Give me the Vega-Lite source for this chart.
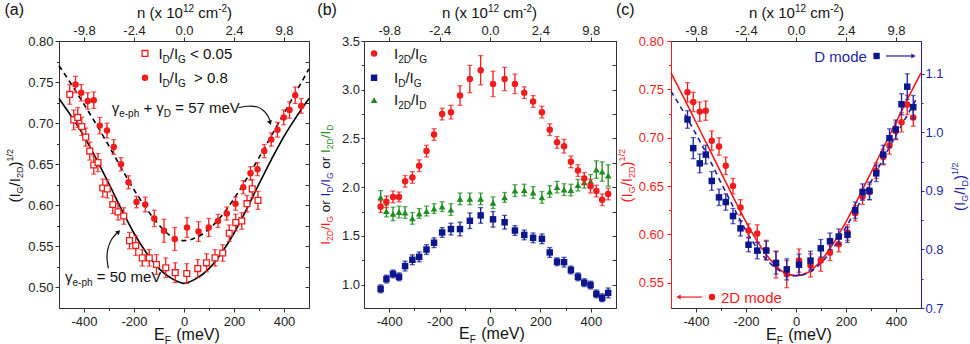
{
"$schema":"https://vega.github.io/schema/vega-lite/v6.json",
"padding":{"left":3,"top":1,"right":0,"bottom":0},
"autosize":{"type":"pad"},
"background":"white",
"config":{"font":"Liberation Sans","view":{"stroke":"#333","strokeWidth":1},"axis":{"labelFont":"Liberation Sans","labelFontSize":13,"labelColor":"#222","domainColor":"#333","tickColor":"#333","grid":false,"labelFlush":false,"labelOverlap":false},"text":{"font":"Liberation Sans"}},
"datasets":{
"circ":[{"E":-434,"v":0.747,"e":0.010},{"E":-411,"v":0.737,"e":0.010},{"E":-385,"v":0.727,"e":0.010},{"E":-361,"v":0.728,"e":0.010},{"E":-337,"v":0.697,"e":0.010},{"E":-308,"v":0.691,"e":0.009},{"E":-281,"v":0.671,"e":0.009},{"E":-252,"v":0.650,"e":0.008},{"E":-222,"v":0.628,"e":0.008},{"E":-190,"v":0.604,"e":0.007},{"E":-155,"v":0.601,"e":0.009},{"E":-119,"v":0.584,"e":0.010},{"E":-80,"v":0.569,"e":0.014},{"E":-37,"v":0.559,"e":0.014},{"E":12,"v":0.573,"e":0.012},{"E":58,"v":0.568,"e":0.012},{"E":99,"v":0.573,"e":0.011},{"E":136,"v":0.581,"e":0.008},{"E":171,"v":0.590,"e":0.008},{"E":206,"v":0.602,"e":0.008},{"E":237,"v":0.622,"e":0.008},{"E":266,"v":0.639,"e":0.008},{"E":294,"v":0.644,"e":0.008},{"E":321,"v":0.666,"e":0.008},{"E":349,"v":0.680,"e":0.008},{"E":374,"v":0.692,"e":0.009},{"E":399,"v":0.707,"e":0.009},{"E":422,"v":0.716,"e":0.010},{"E":445,"v":0.734,"e":0.010},{"E":469,"v":0.721,"e":0.009}],
"sq":[{"E":-457,"v":0.735,"e":0.012},{"E":-441,"v":0.704,"e":0.012},{"E":-425,"v":0.707,"e":0.012},{"E":-409,"v":0.696,"e":0.011},{"E":-393,"v":0.683,"e":0.011},{"E":-377,"v":0.666,"e":0.011},{"E":-361,"v":0.649,"e":0.011},{"E":-344,"v":0.652,"e":0.011},{"E":-325,"v":0.621,"e":0.011},{"E":-307,"v":0.620,"e":0.011},{"E":-285,"v":0.601,"e":0.011},{"E":-264,"v":0.592,"e":0.010},{"E":-241,"v":0.587,"e":0.010},{"E":-218,"v":0.557,"e":0.010},{"E":-193,"v":0.551,"e":0.012},{"E":-167,"v":0.536,"e":0.010},{"E":-139,"v":0.536,"e":0.010},{"E":-110,"v":0.528,"e":0.012},{"E":-73,"v":0.524,"e":0.012},{"E":-35,"v":0.518,"e":0.012},{"E":11,"v":0.517,"e":0.012},{"E":55,"v":0.523,"e":0.011},{"E":90,"v":0.530,"e":0.011},{"E":124,"v":0.536,"e":0.010},{"E":155,"v":0.542,"e":0.010},{"E":181,"v":0.566,"e":0.010},{"E":207,"v":0.579,"e":0.010},{"E":231,"v":0.581,"e":0.010},{"E":252,"v":0.602,"e":0.010},{"E":273,"v":0.620,"e":0.011},{"E":296,"v":0.606,"e":0.011}],
"b_r":[{"E":-434,"v":1.80,"e":0.06},{"E":-411,"v":1.85,"e":0.06},{"E":-385,"v":1.90,"e":0.06},{"E":-361,"v":1.90,"e":0.05},{"E":-337,"v":2.06,"e":0.06},{"E":-308,"v":2.10,"e":0.06},{"E":-281,"v":2.22,"e":0.06},{"E":-252,"v":2.37,"e":0.06},{"E":-222,"v":2.54,"e":0.06},{"E":-190,"v":2.75,"e":0.06},{"E":-155,"v":2.77,"e":0.07},{"E":-119,"v":2.94,"e":0.10},{"E":-80,"v":3.11,"e":0.14},{"E":-37,"v":3.20,"e":0.15},{"E":12,"v":3.06,"e":0.13},{"E":58,"v":3.11,"e":0.12},{"E":99,"v":3.06,"e":0.10},{"E":136,"v":2.97,"e":0.06},{"E":171,"v":2.88,"e":0.06},{"E":206,"v":2.77,"e":0.06},{"E":237,"v":2.59,"e":0.06},{"E":266,"v":2.46,"e":0.06},{"E":294,"v":2.42,"e":0.07},{"E":321,"v":2.26,"e":0.06},{"E":349,"v":2.17,"e":0.06},{"E":374,"v":2.09,"e":0.06},{"E":399,"v":2.01,"e":0.07},{"E":422,"v":1.96,"e":0.06},{"E":445,"v":1.87,"e":0.06},{"E":469,"v":1.93,"e":0.06}],
"b_b":[{"E":-434,"v":0.957,"e":0.04},{"E":-411,"v":1.057,"e":0.04},{"E":-385,"v":1.11,"e":0.04},{"E":-361,"v":1.08,"e":0.04},{"E":-337,"v":1.19,"e":0.05},{"E":-308,"v":1.255,"e":0.05},{"E":-281,"v":1.285,"e":0.05},{"E":-252,"v":1.36,"e":0.05},{"E":-222,"v":1.43,"e":0.05},{"E":-190,"v":1.535,"e":0.05},{"E":-155,"v":1.57,"e":0.06},{"E":-119,"v":1.57,"e":0.07},{"E":-80,"v":1.655,"e":0.08},{"E":-37,"v":1.71,"e":0.08},{"E":12,"v":1.67,"e":0.08},{"E":58,"v":1.64,"e":0.07},{"E":99,"v":1.555,"e":0.05},{"E":136,"v":1.51,"e":0.05},{"E":171,"v":1.48,"e":0.05},{"E":206,"v":1.47,"e":0.05},{"E":237,"v":1.33,"e":0.05},{"E":266,"v":1.235,"e":0.04},{"E":294,"v":1.23,"e":0.05},{"E":321,"v":1.15,"e":0.04},{"E":349,"v":1.08,"e":0.04},{"E":374,"v":1.02,"e":0.04},{"E":399,"v":0.995,"e":0.04},{"E":422,"v":0.905,"e":0.04},{"E":445,"v":0.865,"e":0.04},{"E":469,"v":0.915,"e":0.05}],
"b_g":[{"E":-434,"v":1.895,"e":0.07},{"E":-411,"v":1.755,"e":0.06},{"E":-385,"v":1.725,"e":0.07},{"E":-361,"v":1.745,"e":0.06},{"E":-337,"v":1.74,"e":0.06},{"E":-308,"v":1.68,"e":0.06},{"E":-281,"v":1.73,"e":0.05},{"E":-252,"v":1.755,"e":0.05},{"E":-222,"v":1.78,"e":0.05},{"E":-190,"v":1.80,"e":0.05},{"E":-155,"v":1.77,"e":0.06},{"E":-119,"v":1.88,"e":0.06},{"E":-80,"v":1.88,"e":0.06},{"E":-37,"v":1.88,"e":0.06},{"E":12,"v":1.84,"e":0.06},{"E":58,"v":1.895,"e":0.05},{"E":99,"v":1.965,"e":0.06},{"E":136,"v":1.97,"e":0.06},{"E":171,"v":1.945,"e":0.06},{"E":206,"v":1.895,"e":0.06},{"E":237,"v":1.955,"e":0.06},{"E":266,"v":2.00,"e":0.06},{"E":294,"v":1.975,"e":0.06},{"E":321,"v":1.97,"e":0.06},{"E":349,"v":2.02,"e":0.06},{"E":374,"v":2.05,"e":0.06},{"E":399,"v":2.06,"e":0.07},{"E":422,"v":2.18,"e":0.09},{"E":445,"v":2.16,"e":0.10},{"E":469,"v":2.12,"e":0.11}],
"c_b":[{"E":-434,"v":1.022,"e":0.015},{"E":-411,"v":0.973,"e":0.018},{"E":-385,"v":0.947,"e":0.016},{"E":-361,"v":0.962,"e":0.016},{"E":-337,"v":0.917,"e":0.016},{"E":-308,"v":0.889,"e":0.014},{"E":-281,"v":0.881,"e":0.014},{"E":-252,"v":0.857,"e":0.013},{"E":-222,"v":0.836,"e":0.013},{"E":-190,"v":0.808,"e":0.012},{"E":-155,"v":0.798,"e":0.014},{"E":-119,"v":0.798,"e":0.016},{"E":-80,"v":0.777,"e":0.019},{"E":-37,"v":0.766,"e":0.018},{"E":12,"v":0.774,"e":0.018},{"E":58,"v":0.781,"e":0.016},{"E":99,"v":0.802,"e":0.015},{"E":136,"v":0.814,"e":0.014},{"E":171,"v":0.822,"e":0.013},{"E":206,"v":0.825,"e":0.013},{"E":237,"v":0.867,"e":0.014},{"E":266,"v":0.898,"e":0.014},{"E":294,"v":0.900,"e":0.015},{"E":321,"v":0.930,"e":0.014},{"E":349,"v":0.962,"e":0.016},{"E":374,"v":0.990,"e":0.016},{"E":399,"v":1.005,"e":0.016},{"E":422,"v":1.048,"e":0.018},{"E":445,"v":1.078,"e":0.022},{"E":469,"v":1.043,"e":0.020}],
"a_solid":[{"E":-500,"v":0.730},{"E":-450,"v":0.708},{"E":-400,"v":0.684},{"E":-350,"v":0.656},{"E":-300,"v":0.626},{"E":-250,"v":0.595},{"E":-200,"v":0.566},{"E":-150,"v":0.542},{"E":-100,"v":0.523},{"E":-50,"v":0.511},{"E":0,"v":0.505},{"E":50,"v":0.511},{"E":100,"v":0.523},{"E":150,"v":0.542},{"E":200,"v":0.566},{"E":250,"v":0.595},{"E":300,"v":0.626},{"E":350,"v":0.656},{"E":400,"v":0.684},{"E":450,"v":0.708},{"E":500,"v":0.730}],
"a_dash":[{"E":-500,"v":0.770},{"E":-450,"v":0.747},{"E":-400,"v":0.723},{"E":-350,"v":0.698},{"E":-300,"v":0.672},{"E":-250,"v":0.645},{"E":-200,"v":0.619},{"E":-150,"v":0.596},{"E":-100,"v":0.576},{"E":-50,"v":0.562},{"E":0,"v":0.557},{"E":50,"v":0.561},{"E":100,"v":0.571},{"E":150,"v":0.587},{"E":200,"v":0.608},{"E":250,"v":0.632},{"E":300,"v":0.658},{"E":350,"v":0.685},{"E":400,"v":0.712},{"E":450,"v":0.739},{"E":500,"v":0.766}],
"c_red":[{"E":-500,"v":0.767},{"E":-450,"v":0.742},{"E":-400,"v":0.716},{"E":-350,"v":0.690},{"E":-300,"v":0.664},{"E":-250,"v":0.638},{"E":-200,"v":0.613},{"E":-150,"v":0.591},{"E":-100,"v":0.573},{"E":-50,"v":0.561},{"E":0,"v":0.5575},{"E":50,"v":0.561},{"E":100,"v":0.573},{"E":150,"v":0.591},{"E":200,"v":0.613},{"E":250,"v":0.638},{"E":300,"v":0.664},{"E":350,"v":0.690},{"E":400,"v":0.716},{"E":450,"v":0.742},{"E":500,"v":0.767}],
"c_blue":[{"E":-500,"v":1.070},{"E":-450,"v":1.035},{"E":-400,"v":0.997},{"E":-350,"v":0.957},{"E":-300,"v":0.914},{"E":-250,"v":0.872},{"E":-200,"v":0.832},{"E":-150,"v":0.799},{"E":-100,"v":0.775},{"E":-50,"v":0.760},{"E":0,"v":0.755},{"E":50,"v":0.760},{"E":100,"v":0.777},{"E":150,"v":0.803},{"E":200,"v":0.838},{"E":250,"v":0.876},{"E":300,"v":0.916},{"E":350,"v":0.956},{"E":400,"v":0.995},{"E":450,"v":1.033},{"E":480,"v":1.056}],
"a_arr1":[{"i":0,"E":217.6,"v":0.7188},{"i":1,"E":250.8,"v":0.7206},{"i":2,"E":290.8,"v":0.7200},{"i":3,"E":318.8,"v":0.7152},{"i":4,"E":334.8,"v":0.7090},{"i":5,"E":344,"v":0.7030}],
"a_arr2":[{"i":0,"E":-302.4,"v":0.5232},{"i":1,"E":-308,"v":0.5362},{"i":2,"E":-303.2,"v":0.5484},{"i":3,"E":-289.2,"v":0.5587},{"i":4,"E":-269.2,"v":0.5660}]
},
"bounds":"flush",
"spacing":55,
"resolve":{"scale":{"color":"independent"}},
"hconcat":[
{"width":250,"height":267,
"resolve":{"axis":{"x":"independent","y":"independent"}},
"layer":[
{"data":{"name":"circ"},"mark":{"type":"point","opacity":0},"encoding":{
"x":{"field":"E","type":"quantitative","scale":{"domain":[-500,500],"nice":false,"zero":false},"axis":{"orient":"bottom","values":[-400,-200,0,200,400],"labelExpr":"toString(datum.value)","title":null,"tickSize":4,"labelPadding":3.5}},
"y":{"field":"v","type":"quantitative","scale":{"domain":[0.475,0.8],"nice":false,"zero":false},"axis":{"orient":"left","values":[0.5,0.55,0.6,0.65,0.7,0.75,0.8],"format":".2f","title":null,"tickSize":4,"labelPadding":2}}}},
{"data":{"name":"circ"},"mark":{"type":"point","opacity":0},"encoding":{
"x":{"field":"E","type":"quantitative","scale":{"domain":[-500,500],"nice":false,"zero":false},"axis":{"orient":"top","values":[-400,-200,0,200,400],"labelExpr":"datum.value == -400 ? '-9.8' : datum.value == -200 ? '-2.4' : datum.value == 0 ? '0.0' : datum.value == 200 ? '2.4' : '9.8'","title":null,"tickSize":4,"labelPadding":0}},
"y":{"field":"v","type":"quantitative","scale":{"domain":[0.475,0.8],"nice":false,"zero":false},"axis":{"orient":"right","values":[0.5,0.525,0.55,0.575,0.6,0.625,0.65,0.675,0.7,0.725,0.75,0.775],"labels":false,"title":null,"tickSize":-4}}}},
{"data":{"name":"circ"},"mark":{"type":"point","opacity":0},"encoding":{
"x":{"field":"E","type":"quantitative","scale":{"domain":[-500,500],"nice":false,"zero":false},"axis":{"orient":"bottom","values":[-300,-100,100,300],"labels":false,"domain":false,"title":null,"tickSize":2.5}},
"y":{"field":"v","type":"quantitative","scale":{"domain":[0.475,0.8],"nice":false,"zero":false},"axis":{"orient":"left","values":[0.525,0.575,0.625,0.675,0.725,0.775],"labels":false,"domain":false,"title":null,"tickSize":2.5}}}},
{"data":{"name":"a_solid"},"mark":{"type":"line","color":"#000","strokeWidth":1.6,"interpolate":"monotone"},"encoding":{
"x":{"field":"E","type":"quantitative","scale":{"domain":[-500,500],"nice":false,"zero":false},"axis":null},
"y":{"field":"v","type":"quantitative","scale":{"domain":[0.475,0.8],"nice":false,"zero":false},"axis":null}}},
{"data":{"name":"a_dash"},"mark":{"type":"line","color":"#000","strokeWidth":1.6,"strokeDash":[5,4],"interpolate":"monotone"},"encoding":{
"x":{"field":"E","type":"quantitative","scale":{"domain":[-500,500],"nice":false,"zero":false},"axis":null},
"y":{"field":"v","type":"quantitative","scale":{"domain":[0.475,0.8],"nice":false,"zero":false},"axis":null}}},
{"data":{"name":"sq"},"mark":{"type":"errorbar","ticks":true,"size":5,"thickness":1.3,"color":"#f21c1c"},"encoding":{
"x":{"field":"E","type":"quantitative","scale":{"domain":[-500,500],"nice":false,"zero":false},"axis":null},
"y":{"field":"v","type":"quantitative","scale":{"domain":[0.475,0.8],"nice":false,"zero":false},"axis":null},
"yError":{"field":"e"}}},
{"data":{"name":"sq"},"mark":{"type":"point","shape":"square","filled":true,"fill":"#fff","stroke":"#f21c1c","strokeWidth":1.3,"size":34,"opacity":1},"encoding":{
"x":{"field":"E","type":"quantitative","scale":{"domain":[-500,500],"nice":false,"zero":false},"axis":null},
"y":{"field":"v","type":"quantitative","scale":{"domain":[0.475,0.8],"nice":false,"zero":false},"axis":null}}},
{"data":{"name":"circ"},"mark":{"type":"errorbar","ticks":true,"size":5,"thickness":1.3,"color":"#f21c1c"},"encoding":{
"x":{"field":"E","type":"quantitative","scale":{"domain":[-500,500],"nice":false,"zero":false},"axis":null},
"y":{"field":"v","type":"quantitative","scale":{"domain":[0.475,0.8],"nice":false,"zero":false},"axis":null},
"yError":{"field":"e"}}},
{"data":{"name":"circ"},"mark":{"type":"circle","color":"#f21c1c","size":42,"opacity":1},"encoding":{
"x":{"field":"E","type":"quantitative","scale":{"domain":[-500,500],"nice":false,"zero":false},"axis":null},
"y":{"field":"v","type":"quantitative","scale":{"domain":[0.475,0.8],"nice":false,"zero":false},"axis":null}}},
{"data":{"values":[{"E":-156,"v":0.7849}]},"mark":{"type":"point","shape":"square","filled":true,"fill":"#fff","stroke":"#f21c1c","strokeWidth":1.3,"size":34,"opacity":1},"encoding":{
"x":{"field":"E","type":"quantitative","scale":{"domain":[-500,500],"nice":false,"zero":false},"axis":null},
"y":{"field":"v","type":"quantitative","scale":{"domain":[0.475,0.8],"nice":false,"zero":false},"axis":null}}},
{"data":{"values":[{"E":-156,"v":0.7553}]},"mark":{"type":"circle","color":"#f21c1c","size":42,"opacity":1},"encoding":{
"x":{"field":"E","type":"quantitative","scale":{"domain":[-500,500],"nice":false,"zero":false},"axis":null},
"y":{"field":"v","type":"quantitative","scale":{"domain":[0.475,0.8],"nice":false,"zero":false},"axis":null}}},
{"data":{"name":"a_arr1"},"mark":{"type":"line","color":"#111","strokeWidth":1.2,"interpolate":"cardinal"},"encoding":{
"x":{"field":"E","type":"quantitative","scale":{"domain":[-500,500],"nice":false,"zero":false},"axis":null},
"y":{"field":"v","type":"quantitative","scale":{"domain":[0.475,0.8],"nice":false,"zero":false},"axis":null},
"order":{"field":"i","type":"quantitative"}}},
{"data":{"name":"a_arr2"},"mark":{"type":"line","color":"#111","strokeWidth":1.2,"interpolate":"cardinal"},"encoding":{
"x":{"field":"E","type":"quantitative","scale":{"domain":[-500,500],"nice":false,"zero":false},"axis":null},
"y":{"field":"v","type":"quantitative","scale":{"domain":[0.475,0.8],"nice":false,"zero":false},"axis":null},
"order":{"field":"i","type":"quantitative"}}},
{"data":{"values":[{"E":344.5,"v":0.7005}]},"mark":{"type":"point","shape":"triangle-down","filled":true,"color":"#111","size":28,"angle":340,"opacity":1},"encoding":{
"x":{"field":"E","type":"quantitative","scale":{"domain":[-500,500],"nice":false,"zero":false},"axis":null},
"y":{"field":"v","type":"quantitative","scale":{"domain":[0.475,0.8],"nice":false,"zero":false},"axis":null}}},
{"data":{"values":[{"E":-262,"v":0.5677}]},"mark":{"type":"point","shape":"triangle-up","filled":true,"color":"#111","size":28,"angle":45,"opacity":1},"encoding":{
"x":{"field":"E","type":"quantitative","scale":{"domain":[-500,500],"nice":false,"zero":false},"axis":null},
"y":{"field":"v","type":"quantitative","scale":{"domain":[0.475,0.8],"nice":false,"zero":false},"axis":null}}},
{"data":{"values":[{"t":"(a)","E":-718.4,"v":0.8314},{"t":"E","E":-120,"v":0.4366},{"t":"(meV)","E":-31,"v":0.4366}]},"mark":{"type":"text","align":"left","baseline":"alphabetic","fontSize":16,"color":"#111"},"encoding":{
"x":{"field":"E","type":"quantitative","scale":{"domain":[-500,500],"nice":false,"zero":false},"axis":null},
"y":{"field":"v","type":"quantitative","scale":{"domain":[0.475,0.8],"nice":false,"zero":false},"axis":null},
"text":{"field":"t"}}},
{"data":{"values":[{"t":"n (x 10","E":-188,"v":0.8275},{"t":"cm","E":56.8,"v":0.8275},{"t":")","E":172.4,"v":0.8275},{"t":"I","E":-102.4,"v":0.7783},{"t":"/I","E":-56.8,"v":0.7783},{"t":"< 0.05","E":24.4,"v":0.7783},{"t":"I","E":-102.4,"v":0.7487},{"t":"/I","E":-56.8,"v":0.7487},{"t":"> 0.8","E":40,"v":0.7487},{"t":"γ","E":-289.2,"v":0.712},{"t":"+ γ","E":-162.4,"v":0.712},{"t":"= 57 meV","E":-35.2,"v":0.712},{"t":"γ","E":-476,"v":0.5067},{"t":"= 50 meV","E":-349.2,"v":0.5067}]},"mark":{"type":"text","align":"left","baseline":"alphabetic","fontSize":15,"color":"#111"},"encoding":{
"x":{"field":"E","type":"quantitative","scale":{"domain":[-500,500],"nice":false,"zero":false},"axis":null},
"y":{"field":"v","type":"quantitative","scale":{"domain":[0.475,0.8],"nice":false,"zero":false},"axis":null},
"text":{"field":"t"}}},
{"data":{"values":[{"t":"F","E":-77.3,"v":0.4366},{"t":"D","E":-85.6,"v":0.7783},{"t":"G","E":-23.6,"v":0.7783},{"t":"D","E":-85.6,"v":0.7487},{"t":"G","E":-23.6,"v":0.7487},{"t":"e-ph","E":-259.2,"v":0.712},{"t":"D","E":-80.8,"v":0.712},{"t":"e-ph","E":-446,"v":0.5067}]},"mark":{"type":"text","align":"left","baseline":"alphabetic","fontSize":10,"dy":4,"color":"#111"},"encoding":{
"x":{"field":"E","type":"quantitative","scale":{"domain":[-500,500],"nice":false,"zero":false},"axis":null},
"y":{"field":"v","type":"quantitative","scale":{"domain":[0.475,0.8],"nice":false,"zero":false},"axis":null},
"text":{"field":"t"}}},
{"data":{"values":[{"t":"12","E":-4.4,"v":0.8275},{"t":"-2","E":136.8,"v":0.8275}]},"mark":{"type":"text","align":"left","baseline":"alphabetic","fontSize":10,"dy":-6,"color":"#111"},"encoding":{
"x":{"field":"E","type":"quantitative","scale":{"domain":[-500,500],"nice":false,"zero":false},"axis":null},
"y":{"field":"v","type":"quantitative","scale":{"domain":[0.475,0.8],"nice":false,"zero":false},"axis":null},
"text":{"field":"t"}}},
{"data":{"values":[{"t":"(I","E":-655,"v":0.6033},{"t":"/I","E":-655,"v":0.6230},{"t":")","E":-655,"v":0.6471}]},"mark":{"type":"text","align":"left","baseline":"alphabetic","fontSize":15,"angle":270,"color":"#111"},"encoding":{
"x":{"field":"E","type":"quantitative","scale":{"domain":[-500,500],"nice":false,"zero":false},"axis":null},
"y":{"field":"v","type":"quantitative","scale":{"domain":[0.475,0.8],"nice":false,"zero":false},"axis":null},
"text":{"field":"t"}}},
{"data":{"values":[{"t":"G","E":-655,"v":0.6144},{"t":"2D","E":-655,"v":0.6331}]},"mark":{"type":"text","align":"left","baseline":"alphabetic","fontSize":9,"angle":270,"dy":3,"color":"#111"},"encoding":{
"x":{"field":"E","type":"quantitative","scale":{"domain":[-500,500],"nice":false,"zero":false},"axis":null},
"y":{"field":"v","type":"quantitative","scale":{"domain":[0.475,0.8],"nice":false,"zero":false},"axis":null},
"text":{"field":"t"}}},
{"data":{"values":[{"t":"1/2","E":-655,"v":0.6532}]},"mark":{"type":"text","align":"left","baseline":"alphabetic","fontSize":9,"angle":270,"dy":-7,"color":"#111"},"encoding":{
"x":{"field":"E","type":"quantitative","scale":{"domain":[-500,500],"nice":false,"zero":false},"axis":null},
"y":{"field":"v","type":"quantitative","scale":{"domain":[0.475,0.8],"nice":false,"zero":false},"axis":null},
"text":{"field":"t"}}}
]},
{"width":252,"height":267,
"resolve":{"axis":{"x":"independent","y":"independent"}},
"layer":[
{"data":{"name":"b_r"},"mark":{"type":"point","opacity":0},"encoding":{
"x":{"field":"E","type":"quantitative","scale":{"domain":[-500,500],"nice":false,"zero":false},"axis":{"orient":"bottom","values":[-400,-200,0,200,400],"labelExpr":"toString(datum.value)","title":null,"tickSize":4,"labelPadding":3.5}},
"y":{"field":"v","type":"quantitative","scale":{"domain":[0.76,3.5],"nice":false,"zero":false},"axis":{"orient":"left","values":[1,1.5,2,2.5,3,3.5],"format":".1f","title":null,"tickSize":3,"labelPadding":1.5}}}},
{"data":{"name":"b_r"},"mark":{"type":"point","opacity":0},"encoding":{
"x":{"field":"E","type":"quantitative","scale":{"domain":[-500,500],"nice":false,"zero":false},"axis":{"orient":"top","values":[-400,-200,0,200,400],"labelExpr":"datum.value == -400 ? '-9.8' : datum.value == -200 ? '-2.4' : datum.value == 0 ? '0.0' : datum.value == 200 ? '2.4' : '9.8'","title":null,"tickSize":4,"labelPadding":0}},
"y":{"field":"v","type":"quantitative","scale":{"domain":[0.76,3.5],"nice":false,"zero":false},"axis":{"orient":"right","values":[1,1.25,1.5,1.75,2,2.25,2.5,2.75,3,3.25],"labels":false,"title":null,"tickSize":-4}}}},
{"data":{"name":"b_r"},"mark":{"type":"point","opacity":0},"encoding":{
"x":{"field":"E","type":"quantitative","scale":{"domain":[-500,500],"nice":false,"zero":false},"axis":{"orient":"bottom","values":[-300,-100,100,300],"labels":false,"domain":false,"title":null,"tickSize":2.5}},
"y":{"field":"v","type":"quantitative","scale":{"domain":[0.76,3.5],"nice":false,"zero":false},"axis":{"orient":"left","values":[1.25,1.75,2.25,2.75,3.25],"labels":false,"domain":false,"title":null,"tickSize":2.5}}}},
{"data":{"name":"b_b"},"mark":{"type":"errorbar","ticks":true,"size":5,"thickness":1.3,"color":"#0c168c"},"encoding":{
"x":{"field":"E","type":"quantitative","scale":{"domain":[-500,500],"nice":false,"zero":false},"axis":null},
"y":{"field":"v","type":"quantitative","scale":{"domain":[0.76,3.5],"nice":false,"zero":false},"axis":null},
"yError":{"field":"e"}}},
{"data":{"name":"b_b"},"mark":{"type":"point","shape":"square","filled":true,"color":"#0c168c","size":42,"opacity":1},"encoding":{
"x":{"field":"E","type":"quantitative","scale":{"domain":[-500,500],"nice":false,"zero":false},"axis":null},
"y":{"field":"v","type":"quantitative","scale":{"domain":[0.76,3.5],"nice":false,"zero":false},"axis":null}}},
{"data":{"name":"b_g"},"mark":{"type":"errorbar","ticks":true,"size":5,"thickness":1.3,"color":"#1e8c1e"},"encoding":{
"x":{"field":"E","type":"quantitative","scale":{"domain":[-500,500],"nice":false,"zero":false},"axis":null},
"y":{"field":"v","type":"quantitative","scale":{"domain":[0.76,3.5],"nice":false,"zero":false},"axis":null},
"yError":{"field":"e"}}},
{"data":{"name":"b_g"},"mark":{"type":"point","shape":"triangle-up","filled":true,"color":"#1e8c1e","size":45,"opacity":1},"encoding":{
"x":{"field":"E","type":"quantitative","scale":{"domain":[-500,500],"nice":false,"zero":false},"axis":null},
"y":{"field":"v","type":"quantitative","scale":{"domain":[0.76,3.5],"nice":false,"zero":false},"axis":null}}},
{"data":{"name":"b_r"},"mark":{"type":"errorbar","ticks":true,"size":5,"thickness":1.3,"color":"#f21c1c"},"encoding":{
"x":{"field":"E","type":"quantitative","scale":{"domain":[-500,500],"nice":false,"zero":false},"axis":null},
"y":{"field":"v","type":"quantitative","scale":{"domain":[0.76,3.5],"nice":false,"zero":false},"axis":null},
"yError":{"field":"e"}}},
{"data":{"name":"b_r"},"mark":{"type":"circle","color":"#f21c1c","size":42,"opacity":1},"encoding":{
"x":{"field":"E","type":"quantitative","scale":{"domain":[-500,500],"nice":false,"zero":false},"axis":null},
"y":{"field":"v","type":"quantitative","scale":{"domain":[0.76,3.5],"nice":false,"zero":false},"axis":null}}},
{"data":{"values":[{"E":-460,"v":3.3726}]},"mark":{"type":"circle","color":"#f21c1c","size":42,"opacity":1},"encoding":{
"x":{"field":"E","type":"quantitative","scale":{"domain":[-500,500],"nice":false,"zero":false},"axis":null},
"y":{"field":"v","type":"quantitative","scale":{"domain":[0.76,3.5],"nice":false,"zero":false},"axis":null}}},
{"data":{"values":[{"E":-460,"v":3.1228}]},"mark":{"type":"point","shape":"square","filled":true,"color":"#0c168c","size":42,"opacity":1},"encoding":{
"x":{"field":"E","type":"quantitative","scale":{"domain":[-500,500],"nice":false,"zero":false},"axis":null},
"y":{"field":"v","type":"quantitative","scale":{"domain":[0.76,3.5],"nice":false,"zero":false},"axis":null}}},
{"data":{"values":[{"E":-460,"v":2.8936}]},"mark":{"type":"point","shape":"triangle-up","filled":true,"color":"#1e8c1e","size":45,"opacity":1},"encoding":{
"x":{"field":"E","type":"quantitative","scale":{"domain":[-500,500],"nice":false,"zero":false},"axis":null},
"y":{"field":"v","type":"quantitative","scale":{"domain":[0.76,3.5],"nice":false,"zero":false},"axis":null}}},
{"data":{"values":[{"t":"(b)","E":-685.3,"v":3.7648},{"t":"E","E":-123,"v":0.44},{"t":"(meV)","E":-34.8,"v":0.44}]},"mark":{"type":"text","align":"left","baseline":"alphabetic","fontSize":16,"color":"#111"},"encoding":{
"x":{"field":"E","type":"quantitative","scale":{"domain":[-500,500],"nice":false,"zero":false},"axis":null},
"y":{"field":"v","type":"quantitative","scale":{"domain":[0.76,3.5],"nice":false,"zero":false},"axis":null},
"text":{"field":"t"}}},
{"data":{"values":[{"t":"n (x 10","E":-190.5,"v":3.7319},{"t":"cm","E":52.4,"v":3.7319},{"t":")","E":167,"v":3.7319},{"t":"I","E":-381,"v":3.3171},{"t":"/I","E":-313.7,"v":3.3171},{"t":"I","E":-381,"v":3.0673},{"t":"/I","E":-335.8,"v":3.0673},{"t":"I","E":-381,"v":2.8381},{"t":"/I","E":-313.7,"v":2.8381}]},"mark":{"type":"text","align":"left","baseline":"alphabetic","fontSize":15,"color":"#111"},"encoding":{
"x":{"field":"E","type":"quantitative","scale":{"domain":[-500,500],"nice":false,"zero":false},"axis":null},
"y":{"field":"v","type":"quantitative","scale":{"domain":[0.76,3.5],"nice":false,"zero":false},"axis":null},
"text":{"field":"t"}}},
{"data":{"values":[{"t":"F","E":-80.7,"v":0.44},{"t":"2D","E":-364.4,"v":3.3171},{"t":"G","E":-280.6,"v":3.3171},{"t":"D","E":-364.4,"v":3.0673},{"t":"G","E":-302.7,"v":3.0673},{"t":"2D","E":-364.4,"v":2.8381},{"t":"D","E":-280.6,"v":2.8381}]},"mark":{"type":"text","align":"left","baseline":"alphabetic","fontSize":10,"dy":4,"color":"#111"},"encoding":{
"x":{"field":"E","type":"quantitative","scale":{"domain":[-500,500],"nice":false,"zero":false},"axis":null},
"y":{"field":"v","type":"quantitative","scale":{"domain":[0.76,3.5],"nice":false,"zero":false},"axis":null},
"text":{"field":"t"}}},
{"data":{"values":[{"t":"12","E":-8.3,"v":3.7319},{"t":"-2","E":131.7,"v":3.7319}]},"mark":{"type":"text","align":"left","baseline":"alphabetic","fontSize":10,"dy":-6,"color":"#111"},"encoding":{
"x":{"field":"E","type":"quantitative","scale":{"domain":[-500,500],"nice":false,"zero":false},"axis":null},
"y":{"field":"v","type":"quantitative","scale":{"domain":[0.76,3.5],"nice":false,"zero":false},"axis":null},
"text":{"field":"t"}}},
{"data":{"values":[{"t":"I","c":"I2D/IG","E":-633,"v":1.4097},{"t":"/I","c":"I2D/IG","E":-633,"v":1.5596},{"t":"or","c":"or","E":-633,"v":1.7430},{"t":"I","c":"ID/IG","E":-633,"v":1.9046},{"t":"/I","c":"ID/IG","E":-633,"v":2.0061},{"t":"or","c":"or","E":-633,"v":2.1895},{"t":"I","c":"I2D/ID","E":-633,"v":2.3511},{"t":"/I","c":"I2D/ID","E":-633,"v":2.5010}]},"mark":{"type":"text","align":"left","baseline":"alphabetic","fontSize":13.5,"angle":270},"encoding":{
"x":{"field":"E","type":"quantitative","scale":{"domain":[-500,500],"nice":false,"zero":false},"axis":null},
"y":{"field":"v","type":"quantitative","scale":{"domain":[0.76,3.5],"nice":false,"zero":false},"axis":null},
"color":{"field":"c","type":"nominal","scale":{"domain":["I2D/IG","ID/IG","I2D/ID","or"],"range":["#f21c1c","#1f1fa6","#1e8c1e","#111111"]},"legend":null},
"text":{"field":"t"}}},
{"data":{"values":[{"t":"2D","c":"I2D/IG","E":-633,"v":1.4482},{"t":"G","c":"I2D/IG","E":-633,"v":1.6367},{"t":"D","c":"ID/IG","E":-633,"v":1.9431},{"t":"G","c":"ID/IG","E":-633,"v":2.0832},{"t":"2D","c":"I2D/ID","E":-633,"v":2.3896},{"t":"D","c":"I2D/ID","E":-633,"v":2.5781}]},"mark":{"type":"text","align":"left","baseline":"alphabetic","fontSize":8.5,"angle":270,"dy":3},"encoding":{
"x":{"field":"E","type":"quantitative","scale":{"domain":[-500,500],"nice":false,"zero":false},"axis":null},
"y":{"field":"v","type":"quantitative","scale":{"domain":[0.76,3.5],"nice":false,"zero":false},"axis":null},
"color":{"field":"c","type":"nominal","scale":{"domain":["I2D/IG","ID/IG","I2D/ID","or"],"range":["#f21c1c","#1f1fa6","#1e8c1e","#111111"]},"legend":null},
"text":{"field":"t"}}}
]},
{"width":250,"height":267,
"resolve":{"scale":{"y":"independent"},"axis":{"x":"independent","y":"independent"}},
"layer":[
{"data":{"name":"circ"},"mark":{"type":"point","opacity":0},"encoding":{
"x":{"field":"E","type":"quantitative","scale":{"domain":[-500,500],"nice":false,"zero":false},"axis":{"orient":"bottom","values":[-400,-200,0,200,400],"labelExpr":"toString(datum.value)","title":null,"tickSize":4,"labelPadding":3.5}},
"y":{"field":"v","type":"quantitative","scale":{"domain":[0.524,0.8],"nice":false,"zero":false},"axis":{"orient":"left","values":[0.55,0.6,0.65,0.7,0.75,0.8],"format":".2f","title":null,"tickSize":4,"labelPadding":3.5,"labelColor":"#f21c1c","tickColor":"#f21c1c","domainColor":"#f21c1c"}}}},
{"data":{"name":"c_b"},"mark":{"type":"point","opacity":0},"encoding":{
"x":{"field":"E","type":"quantitative","scale":{"domain":[-500,500],"nice":false,"zero":false},"axis":{"orient":"top","values":[-400,-200,0,200,400],"labelExpr":"datum.value == -400 ? '-9.8' : datum.value == -200 ? '-2.4' : datum.value == 0 ? '0.0' : datum.value == 200 ? '2.4' : '9.8'","title":null,"tickSize":4,"labelPadding":0}},
"y":{"field":"v","type":"quantitative","scale":{"domain":[0.7,1.156],"nice":false,"zero":false},"axis":{"orient":"right","values":[0.7,0.8,0.9,1.0,1.1],"format":".1f","title":null,"tickSize":3,"labelPadding":1,"labelColor":"#1f1fa6","tickColor":"#1f1fa6","domainColor":"#1f1fa6"}}}},
{"data":{"name":"circ"},"mark":{"type":"point","opacity":0},"encoding":{
"x":{"field":"E","type":"quantitative","scale":{"domain":[-500,500],"nice":false,"zero":false},"axis":{"orient":"bottom","values":[-300,-100,100,300],"labels":false,"domain":false,"title":null,"tickSize":2.5}},
"y":{"field":"v","type":"quantitative","scale":{"domain":[0.524,0.8],"nice":false,"zero":false},"axis":{"orient":"left","values":[0.575,0.625,0.675,0.725,0.775],"labels":false,"domain":false,"title":null,"tickSize":2.5,"tickColor":"#f21c1c"}}}},
{"data":{"name":"c_b"},"mark":{"type":"point","opacity":0},"encoding":{
"x":{"field":"E","type":"quantitative","scale":{"domain":[-500,500],"nice":false,"zero":false},"axis":null},
"y":{"field":"v","type":"quantitative","scale":{"domain":[0.7,1.156],"nice":false,"zero":false},"axis":{"orient":"right","values":[0.75,0.85,0.95,1.05],"labels":false,"domain":false,"title":null,"tickSize":2,"tickColor":"#1f1fa6"}}}},
{"data":{"name":"c_red"},"mark":{"type":"line","color":"#f21c1c","strokeWidth":1.6,"interpolate":"monotone"},"encoding":{
"x":{"field":"E","type":"quantitative","scale":{"domain":[-500,500],"nice":false,"zero":false},"axis":null},
"y":{"field":"v","type":"quantitative","scale":{"domain":[0.524,0.8],"nice":false,"zero":false},"axis":null}}},
{"data":{"name":"c_blue"},"mark":{"type":"line","color":"#1f1fa6","strokeWidth":1.6,"strokeDash":[5,4],"interpolate":"monotone"},"encoding":{
"x":{"field":"E","type":"quantitative","scale":{"domain":[-500,500],"nice":false,"zero":false},"axis":null},
"y":{"field":"v","type":"quantitative","scale":{"domain":[0.7,1.156],"nice":false,"zero":false},"axis":null}}},
{"data":{"name":"circ"},"mark":{"type":"errorbar","ticks":true,"size":5,"thickness":1.3,"color":"#f21c1c"},"encoding":{
"x":{"field":"E","type":"quantitative","scale":{"domain":[-500,500],"nice":false,"zero":false},"axis":null},
"y":{"field":"v","type":"quantitative","scale":{"domain":[0.524,0.8],"nice":false,"zero":false},"axis":null},
"yError":{"field":"e"}}},
{"data":{"name":"circ"},"mark":{"type":"circle","color":"#f21c1c","size":42,"opacity":1},"encoding":{
"x":{"field":"E","type":"quantitative","scale":{"domain":[-500,500],"nice":false,"zero":false},"axis":null},
"y":{"field":"v","type":"quantitative","scale":{"domain":[0.524,0.8],"nice":false,"zero":false},"axis":null}}},
{"data":{"name":"c_b"},"mark":{"type":"errorbar","ticks":true,"size":5,"thickness":1.3,"color":"#1f1fa6"},"encoding":{
"x":{"field":"E","type":"quantitative","scale":{"domain":[-500,500],"nice":false,"zero":false},"axis":null},
"y":{"field":"v","type":"quantitative","scale":{"domain":[0.7,1.156],"nice":false,"zero":false},"axis":null},
"yError":{"field":"e"}}},
{"data":{"name":"c_b"},"mark":{"type":"point","shape":"square","filled":true,"color":"#0c168c","size":42,"opacity":1},"encoding":{
"x":{"field":"E","type":"quantitative","scale":{"domain":[-500,500],"nice":false,"zero":false},"axis":null},
"y":{"field":"v","type":"quantitative","scale":{"domain":[0.7,1.156],"nice":false,"zero":false},"axis":null}}},
{"data":{"values":[{"E":322.4,"v":0.7845}]},"mark":{"type":"point","shape":"square","filled":true,"color":"#0c168c","size":40,"opacity":1},"encoding":{
"x":{"field":"E","type":"quantitative","scale":{"domain":[-500,500],"nice":false,"zero":false},"axis":null},
"y":{"field":"v","type":"quantitative","scale":{"domain":[0.524,0.8],"nice":false,"zero":false},"axis":null}}},
{"data":{"values":[{"E":-336,"v":0.5353}]},"mark":{"type":"circle","color":"#f21c1c","size":42,"opacity":1},"encoding":{
"x":{"field":"E","type":"quantitative","scale":{"domain":[-500,500],"nice":false,"zero":false},"axis":null},
"y":{"field":"v","type":"quantitative","scale":{"domain":[0.524,0.8],"nice":false,"zero":false},"axis":null}}},
{"data":{"values":[{"E":360,"v":0.7845},{"E":466,"v":0.7845}]},"mark":{"type":"line","color":"#1f1fa6","strokeWidth":1.2},"encoding":{
"x":{"field":"E","type":"quantitative","scale":{"domain":[-500,500],"nice":false,"zero":false},"axis":null},
"y":{"field":"v","type":"quantitative","scale":{"domain":[0.524,0.8],"nice":false,"zero":false},"axis":null}}},
{"data":{"values":[{"E":470,"v":0.7845}]},"mark":{"type":"point","shape":"triangle-right","filled":true,"color":"#1f1fa6","size":25,"opacity":1},"encoding":{
"x":{"field":"E","type":"quantitative","scale":{"domain":[-500,500],"nice":false,"zero":false},"axis":null},
"y":{"field":"v","type":"quantitative","scale":{"domain":[0.524,0.8],"nice":false,"zero":false},"axis":null}}},
{"data":{"values":[{"E":-376,"v":0.5353},{"E":-466,"v":0.5353}]},"mark":{"type":"line","color":"#f21c1c","strokeWidth":1.2},"encoding":{
"x":{"field":"E","type":"quantitative","scale":{"domain":[-500,500],"nice":false,"zero":false},"axis":null},
"y":{"field":"v","type":"quantitative","scale":{"domain":[0.524,0.8],"nice":false,"zero":false},"axis":null}}},
{"data":{"values":[{"E":-470,"v":0.5353}]},"mark":{"type":"point","shape":"triangle-left","filled":true,"color":"#f21c1c","size":25,"opacity":1},"encoding":{
"x":{"field":"E","type":"quantitative","scale":{"domain":[-500,500],"nice":false,"zero":false},"axis":null},
"y":{"field":"v","type":"quantitative","scale":{"domain":[0.524,0.8],"nice":false,"zero":false},"axis":null}}},
{"data":{"values":[{"t":"(c)","E":-720,"v":0.8267},{"t":"E","E":-120,"v":0.4913},{"t":"(meV)","E":-31,"v":0.4913}]},"mark":{"type":"text","align":"left","baseline":"alphabetic","fontSize":16,"color":"#111"},"encoding":{
"x":{"field":"E","type":"quantitative","scale":{"domain":[-500,500],"nice":false,"zero":false},"axis":null},
"y":{"field":"v","type":"quantitative","scale":{"domain":[0.524,0.8],"nice":false,"zero":false},"axis":null},
"text":{"field":"t"}}},
{"data":{"values":[{"t":"n (x 10","c":"n","E":-188,"v":0.8234},{"t":"cm","c":"n","E":56.8,"v":0.8234},{"t":")","c":"n","E":172.4,"v":0.8234},{"t":"D mode","c":"D","E":73.2,"v":0.7786},{"t":"2D mode","c":"2D","E":-300,"v":0.5294}]},"mark":{"type":"text","align":"left","baseline":"alphabetic","fontSize":15},"encoding":{
"x":{"field":"E","type":"quantitative","scale":{"domain":[-500,500],"nice":false,"zero":false},"axis":null},
"y":{"field":"v","type":"quantitative","scale":{"domain":[0.524,0.8],"nice":false,"zero":false},"axis":null},
"color":{"field":"c","type":"nominal","scale":{"domain":["2D","D","n"],"range":["#f21c1c","#1f1fa6","#111111"]},"legend":null},
"text":{"field":"t"}}},
{"data":{"values":[{"t":"F","E":-77.3,"v":0.4913}]},"mark":{"type":"text","align":"left","baseline":"alphabetic","fontSize":10,"dy":4,"color":"#111"},"encoding":{
"x":{"field":"E","type":"quantitative","scale":{"domain":[-500,500],"nice":false,"zero":false},"axis":null},
"y":{"field":"v","type":"quantitative","scale":{"domain":[0.524,0.8],"nice":false,"zero":false},"axis":null},
"text":{"field":"t"}}},
{"data":{"values":[{"t":"12","E":-4.4,"v":0.8234},{"t":"-2","E":136.8,"v":0.8234}]},"mark":{"type":"text","align":"left","baseline":"alphabetic","fontSize":10,"dy":-6,"color":"#111"},"encoding":{
"x":{"field":"E","type":"quantitative","scale":{"domain":[-500,500],"nice":false,"zero":false},"axis":null},
"y":{"field":"v","type":"quantitative","scale":{"domain":[0.524,0.8],"nice":false,"zero":false},"axis":null},
"text":{"field":"t"}}},
{"data":{"values":[{"t":"(I","c":"2D","E":-658,"v":0.6331},{"t":"/I","c":"2D","E":-658,"v":0.6498},{"t":")","c":"2D","E":-658,"v":0.6703},{"t":"(I","c":"D","E":677,"v":0.6243},{"t":"/I","c":"D","E":677,"v":0.6410},{"t":")","c":"D","E":677,"v":0.6564}]},"mark":{"type":"text","align":"left","baseline":"alphabetic","fontSize":15,"angle":270},"encoding":{
"x":{"field":"E","type":"quantitative","scale":{"domain":[-500,500],"nice":false,"zero":false},"axis":null},
"y":{"field":"v","type":"quantitative","scale":{"domain":[0.524,0.8],"nice":false,"zero":false},"axis":null},
"color":{"field":"c","type":"nominal","scale":{"domain":["2D","D","n"],"range":["#f21c1c","#1f1fa6","#111111"]},"legend":null},
"text":{"field":"t"}}},
{"data":{"values":[{"t":"G","c":"2D","E":-658,"v":0.6426},{"t":"2D","c":"2D","E":-658,"v":0.6584},{"t":"G","c":"D","E":677,"v":0.6338},{"t":"D","c":"D","E":677,"v":0.6497}]},"mark":{"type":"text","align":"left","baseline":"alphabetic","fontSize":9,"angle":270,"dy":3},"encoding":{
"x":{"field":"E","type":"quantitative","scale":{"domain":[-500,500],"nice":false,"zero":false},"axis":null},
"y":{"field":"v","type":"quantitative","scale":{"domain":[0.524,0.8],"nice":false,"zero":false},"axis":null},
"color":{"field":"c","type":"nominal","scale":{"domain":["2D","D","n"],"range":["#f21c1c","#1f1fa6","#111111"]},"legend":null},
"text":{"field":"t"}}},
{"data":{"values":[{"t":"1/2","c":"2D","E":-658,"v":0.6755},{"t":"1/2","c":"D","E":677,"v":0.6615}]},"mark":{"type":"text","align":"left","baseline":"alphabetic","fontSize":9,"angle":270,"dy":-7},"encoding":{
"x":{"field":"E","type":"quantitative","scale":{"domain":[-500,500],"nice":false,"zero":false},"axis":null},
"y":{"field":"v","type":"quantitative","scale":{"domain":[0.524,0.8],"nice":false,"zero":false},"axis":null},
"color":{"field":"c","type":"nominal","scale":{"domain":["2D","D","n"],"range":["#f21c1c","#1f1fa6","#111111"]},"legend":null},
"text":{"field":"t"}}}
]}
]
}
